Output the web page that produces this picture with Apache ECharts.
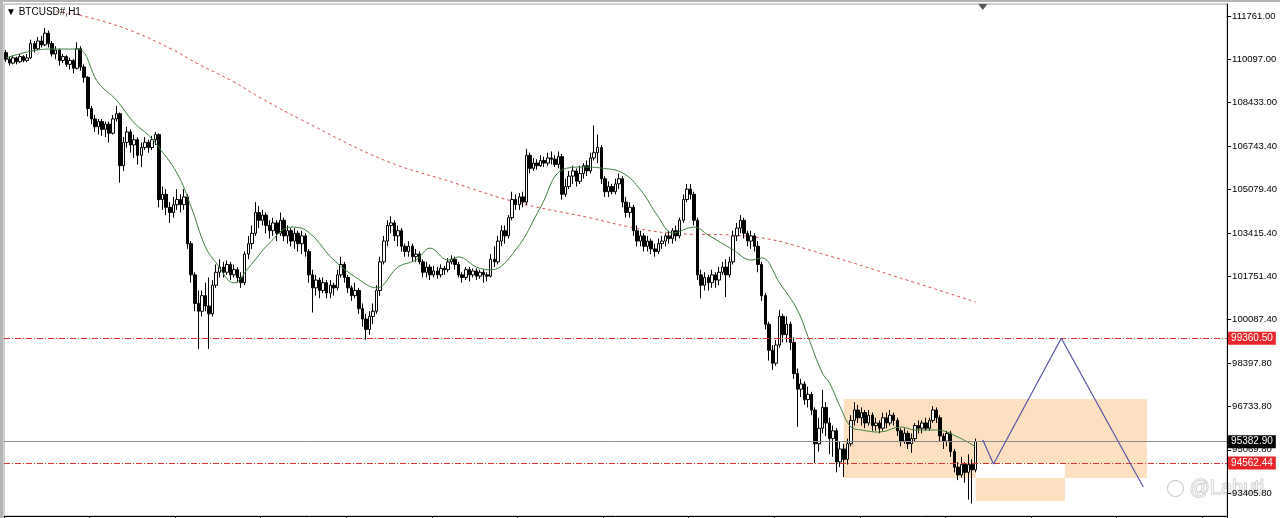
<!DOCTYPE html>
<html>
<head>
<meta charset="utf-8">
<script src="https://cdn.jsdelivr.net/npm/echarts@6/dist/echarts.min.js"></script>
<style>
html,body{margin:0;padding:0;background:#fff;}
#wrap{position:absolute;left:0;top:0;width:1277px;height:516px;border-left:3px solid #b4b4b4;border-top:2px solid #b4b4b4;}
#main{width:1277px;height:516px;}
</style>
</head>
<body>
<div id="wrap"><div id="main"></div></div>
<script>
// ---- data (BTCUSD#, H1) ----
const slotCount = 343; // hourly slots on the time axis (incl. empty space on the right)
const opens = [110350,110100,109950,110150,110000,110200,110050,110150,110700,110500,110800,110650,111100,110700,110300,110450,110050,110200,109900,110050,109750,110500,109800,109400,108200,107800,107500,107700,107400,107600,107250,107800,108000,106000,106900,107300,106800,107000,106400,106700,106900,106700,107000,107200,104700,104900,104400,104200,104500,104700,104500,104800,103000,101800,100700,100400,101000,100600,100300,101400,101900,102100,101900,102200,101800,102000,101700,101500,102600,103000,103400,104200,103900,104100,103700,103500,103800,103400,103900,103300,103500,103100,103400,103000,103300,102700,101800,101300,101600,101200,101500,101100,101400,101300,101800,102200,101700,101300,101000,101200,100500,100100,99700,100200,100400,101200,102300,103100,103700,103800,103300,103500,102900,102700,102900,102500,102600,102300,101900,102100,101800,101950,101800,102050,102000,102300,102400,102200,101800,101700,102000,101800,101950,101750,101900,101800,101750,102400,102300,103100,103500,103300,104000,104700,104500,104800,104600,106400,105900,106100,106000,106200,106100,106300,106250,106050,106350,104900,105200,105600,105800,105400,105700,106000,105800,106300,106500,106700,105500,105000,105200,105000,105300,105500,104600,104200,104400,103500,103100,103300,102900,103100,102800,102700,103000,103100,103300,103200,103500,103300,103900,104700,105100,104900,103900,101800,101400,101700,101500,101800,101600,101900,102100,101800,102300,103300,103600,103900,103400,103100,103300,102900,102200,101000,99900,98900,98400,99100,100200,99500,99900,99200,98000,97400,97600,97000,97200,96600,95300,95900,96700,96100,95500,95800,94600,95100,94700,95300,96200,96600,96300,96500,96100,96400,96000,96100,95900,96300,96100,96400,96200,95800,95400,95700,95300,95500,96000,95900,96100,95900,96200,96600,96300,95600,95400,95700,95000,94400,94100,94500,94200,94500,94300];
const closes = [110100,109950,110150,110000,110200,110050,110150,110700,110500,110800,110650,111100,110700,110300,110450,110050,110200,109900,110050,109750,110500,109800,109400,108200,107800,107500,107700,107400,107600,107250,107800,108000,106000,106900,107300,106800,107000,106400,106700,106900,106700,107000,107200,104700,104900,104400,104200,104500,104700,104500,104800,103000,101800,100700,100400,101000,100600,100300,101400,101900,102100,101900,102200,101800,102000,101700,101500,102600,103000,103400,104200,103900,104100,103700,103500,103800,103400,103900,103300,103500,103100,103400,103000,103300,102700,101800,101300,101600,101200,101500,101100,101400,101300,101800,102200,101700,101300,101000,101200,100500,100100,99700,100200,100400,101200,102300,103100,103700,103800,103300,103500,102900,102700,102900,102500,102600,102300,101900,102100,101800,101950,101800,102050,102000,102300,102400,102200,101800,101700,102000,101800,101950,101750,101900,101800,101750,102400,102300,103100,103500,103300,104000,104700,104500,104800,104600,106400,105900,106100,106000,106200,106100,106300,106250,106050,106350,104900,105200,105600,105800,105400,105700,106000,105800,106300,106500,106700,105500,105000,105200,105000,105300,105500,104600,104200,104400,103500,103100,103300,102900,103100,102800,102700,103000,103100,103300,103200,103500,103300,103900,104700,105100,104900,103900,101800,101400,101700,101500,101800,101600,101900,102100,101800,102300,103300,103600,103900,103400,103100,103300,102900,102200,101000,99900,98900,98400,99100,100200,99500,99900,99200,98000,97400,97600,97000,97200,96600,95300,95900,96700,96100,95500,95800,94600,95100,94700,95300,96200,96600,96300,96500,96100,96400,96000,96100,95900,96300,96100,96400,96200,95800,95400,95700,95300,95500,96000,95900,96100,95900,96200,96600,96300,95600,95400,95700,95000,94400,94100,94500,94200,94500,94300,95383];
const lows = [110000,109850,109900,109900,109950,109980,109980,110100,110350,110450,110550,110600,110550,110200,110100,109850,109950,109800,109700,109550,109700,109650,109200,107900,107600,107300,107200,107150,107100,106900,107200,107700,105350,105800,106700,106500,106300,106050,105950,106600,106500,106600,106800,104400,104300,104100,103800,104000,104300,104200,104300,102800,101500,100400,98950,100200,100400,98950,100200,101300,101700,101700,101800,101600,101700,101500,101300,101400,102400,102800,103300,103600,103700,103400,103200,103300,103100,103300,103100,103000,102900,102800,102700,102600,102500,101500,100350,101000,100900,101100,100900,100900,101000,101200,101700,101500,101100,100800,100900,100300,99800,99300,99500,99900,100300,101000,102200,102900,103400,103100,102900,102700,102500,102500,102300,102300,102200,101700,101700,101600,101700,101650,101700,101800,101900,102200,102000,101700,101500,101600,101550,101700,101600,101650,101500,101550,101700,102100,102200,102900,103000,103200,103900,104300,104300,104400,104500,105700,105800,105850,105950,105950,106000,106050,105950,105900,104700,104800,105100,105300,105200,105300,105500,105600,105700,106200,106100,105300,104800,104800,104900,104900,105100,104400,104000,104000,103300,102900,102900,102700,102700,102600,102500,102600,102800,102900,103000,103000,103100,103200,103800,104600,104700,103700,101600,100900,101200,101200,101300,101300,101400,101800,100950,101700,102200,103100,103400,103200,102900,102800,102700,101900,100800,99700,98500,98140,98300,99000,99200,99200,98900,97800,95950,97100,96800,96700,96400,94560,95000,95700,95600,94900,94800,94200,94400,94020,94500,95200,96000,96100,96000,95900,96000,95800,95800,95700,95800,95900,96000,96000,95600,95200,95300,95100,94950,95400,95700,95700,95800,95800,96100,96100,95400,95100,95200,94800,94200,93900,94000,93800,93150,93000,94200];
const highs = [110450,110200,110250,110200,110300,110250,110300,110850,110800,110950,111000,111300,111200,110800,110600,110500,110300,110250,110150,110100,110750,110600,109900,109450,108300,107950,107800,107800,107700,107700,107950,108300,108050,107100,107500,107400,107200,107100,106900,107100,107000,107150,107300,107250,105200,105100,104600,104800,105100,104900,105100,104900,103100,101900,101200,101200,101500,101700,101600,102200,102400,102300,102350,102300,102200,102100,101900,102700,103300,103700,104600,104450,104300,104200,103900,104000,103900,104200,104000,103700,103600,103600,103500,103500,103400,102800,102000,101800,101700,101700,101600,101600,101500,102000,102500,102300,101800,101400,101500,101300,100700,100300,100400,100700,101400,102500,103300,103900,104050,103900,103700,103600,103000,103100,103000,102800,102700,102400,102300,102200,102150,102100,102200,102150,102450,102550,102500,102300,101900,102100,102100,102050,102050,102000,102000,101900,102600,102900,103300,103700,103700,104100,105000,104900,104950,105000,106650,106500,106300,106250,106400,106350,106500,106550,106400,106550,106450,105500,105800,106000,105900,106000,106100,106200,106500,107550,107200,106800,105600,105400,105300,105500,105700,105600,104800,104600,104500,103700,103500,103400,103300,103200,103000,103200,103300,103400,103500,103600,103700,104000,104900,105300,105300,105000,104000,102000,101900,101800,102000,101900,102100,102300,102400,102500,103500,103800,104100,104000,103500,103500,103400,103100,102300,101100,100000,99100,99300,100450,100300,100200,100000,99400,98200,97800,97700,97500,97300,96700,96300,97370,96900,96300,96000,95900,95400,95300,95500,96400,96900,96800,96700,96600,96600,96500,96300,96200,96500,96500,96600,96500,96300,95900,95900,95800,95700,96100,96200,96200,96300,96300,96750,96700,96400,95700,95800,95800,95100,94600,94800,94600,94900,94700,95500];
// moving averages (slot index, price)
const maFastIdx = [0,12,20,26,31,36,40,42,48,52,56,59,64,68,74,80,84,92,98,104,110,115,119,124,127,132,136,143,150,156,162,167,173,178,183,187,193,197,204,209,212,217,222,225,229,231,234,237,240,245,251,255,261,267,272];
const maFastVal = [110140,110490,110490,109180,108530,107645,107180,106870,105720,104410,102870,102260,101490,102060,103030,103640,103530,102370,101720,101300,102100,102370,102830,102370,102490,102100,101990,102760,104410,105840,105950,105910,105720,105070,104030,103410,103640,103330,102760,102370,102450,101490,100450,99410,98020,97640,96720,95950,95830,95750,95950,95830,95830,95560,95180];
const maSlowIdx = [14,24,36,47,54,64,71,83,106,125,143,164,175,186,210,231,250,272];
const maSlowVal = [111954,111684,111146,110453,109915,109222,108645,107760,106220,105374,104600,103988,103642,103411,103257,102526,101718,100756];
// projected path drawn on the chart
const pathIdx = [274,277,296,319];
const pathVal = [95446,94523,99360,93640];
// horizontal levels
const resistance = 99360.50;
const support = 94562.44;
const bid = 95382.90;
// shaded zones [startIdx, topPrice, endIdx, bottomPrice]
const zoneX0 = [235,235,297,272];
const zoneX1 = [320,272,320,297];
const zoneTop = [97023,94562,94562,93985];
const zoneBottom = [94562,93985,93985,93100];
// price axis tick labels
const priceTicks = [111761.00,110097.00,108433.00,106743.40,105079.40,103415.40,101751.40,100087.40,98397.80,96733.80,95069.80,93405.80];
const yMin = 92521, yMax = 112223;

const categories = Array.from({length: slotCount}, (_, i) => 'bar' + i);
const candleData = opens.map((o, i) => [o, closes[i], lows[i], highs[i]]);
const fastData = maFastIdx.map((x, i) => [x, maFastVal[i]]);
const slowData = maSlowIdx.map((x, i) => [x, maSlowVal[i]]);
const pathData = pathIdx.map((x, i) => [x, pathVal[i]]);
const zones = zoneX0.map((x0, i) => [{coord: [x0, zoneTop[i]]}, {coord: [zoneX1[i], zoneBottom[i]]}]);

const FONT = 'Liberation Sans';
const chart = echarts.init(document.getElementById('main'), null, {renderer: 'canvas'});
const lvlLabel = (bg) => ({
  show: true, position: 'end', distance: 1,
  formatter: (p) => p.value.toFixed(2),
  color: '#fff', backgroundColor: bg, padding: [2, 3, 1, 3],
  fontFamily: FONT, fontSize: 10
});
const redLevel = {color: '#dd3333', width: 1, type: [6, 2, 1, 2], opacity: 1};
chart.setOption({
  animation: false,
  title: {
    text: '\u25BC BTCUSD#,H1', left: 3, top: 5, padding: 0,
    textStyle: {fontSize: 10, fontWeight: 'normal', color: '#000', fontFamily: FONT}
  },
  grid: {left: 1, top: 2, right: 52, bottom: 2, show: true, borderColor: '#a0a0a0', borderWidth: 1},
  xAxis: {
    type: 'category', data: categories, boundaryGap: true,
    axisLine: {show: true, lineStyle: {color: '#000', width: 1}},
    axisTick: {show: true, interval: 23, length: 3, lineStyle: {color: '#000'}},
    axisLabel: {show: false},
    splitLine: {show: false}
  },
  yAxis: {
    type: 'value', position: 'right', min: yMin, max: yMax, scale: true,
    axisLine: {show: true, lineStyle: {color: '#000', width: 1}},
    axisTick: {show: true, length: 4, customValues: priceTicks, lineStyle: {color: '#000'}},
    axisLabel: {show: true, customValues: priceTicks, margin: 5, color: '#000', fontFamily: FONT, fontSize: 9.5,
      formatter: (v) => Number(v).toFixed(2)},
    splitLine: {show: false}
  },
  graphic: [
    {type: 'circle', left: 1164, top: 478, shape: {r: 8}, style: {fill: 'rgba(255,255,255,0.5)', stroke: 'rgba(150,150,150,0.6)', lineWidth: 1}, z: -1},
    {type: 'text', left: 1186, top: 476, style: {text: '@Lahuti', font: '20px "Liberation Sans"', fill: 'rgba(255,255,255,0.6)', stroke: 'rgba(150,150,150,0.6)', lineWidth: 1}, z: -1}
  ],
  series: [
    {
      name: 'MA slow', type: 'line', data: slowData, smooth: 0.4, symbol: 'none', z: 1,
      lineStyle: {color: '#d9534f', width: 1, type: [3, 3]},
      markArea: {silent: true, itemStyle: {color: '#fde0c0'}, data: zones}
    },
    {
      name: 'BTCUSD', type: 'candlestick', data: candleData, barWidth: 3, z: 3,
      itemStyle: {color: '#ffffff', color0: '#000000', borderColor: '#000000', borderColor0: '#000000', borderWidth: 1}
    },
    {
      name: 'MA fast', type: 'line', data: fastData, smooth: 0.4, symbol: 'none', z: 4,
      lineStyle: {color: '#3d7f3d', width: 1}
    },
    {
      name: 'Resistance', type: 'line', data: [], z: 5,
      markLine: {silent: true, symbol: 'none', lineStyle: redLevel,
        data: [{yAxis: resistance, label: lvlLabel('#e8262a')}]}
    },
    {
      name: 'Support', type: 'line', data: [], z: 5,
      markLine: {silent: true, symbol: 'none', lineStyle: redLevel,
        data: [{yAxis: support, label: lvlLabel('#e8262a')}]}
    },
    {
      name: 'Bid', type: 'line', data: [], z: 5,
      markLine: {silent: true, symbol: 'none', lineStyle: {color: '#8a8a8a', width: 1, type: 'solid'},
        data: [{yAxis: bid, label: lvlLabel('#000000')}]}
    },
    {
      name: 'Path', type: 'line', data: pathData, symbol: 'none', z: 6,
      lineStyle: {color: '#5252a8', width: 1.2},
      markPoint: {
        silent: true, symbol: 'triangle', symbolRotate: 180, symbolSize: [9, 6], symbolOffset: [0, 3],
        itemStyle: {color: '#555'}, label: {show: false},
        data: [{coord: [274, yMax]}]
      }
    }
  ]
});
</script>
</body>
</html>
